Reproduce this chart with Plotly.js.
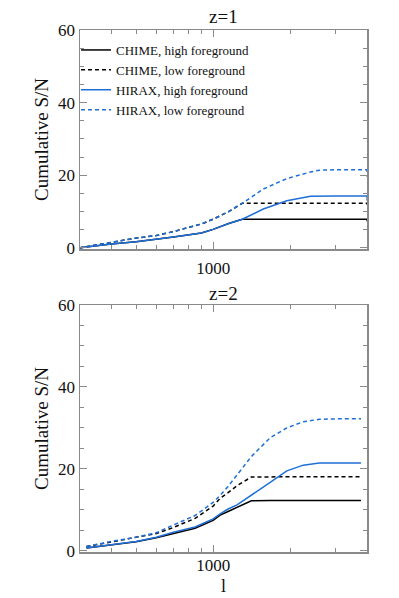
<!DOCTYPE html>
<html>
<head>
<meta charset="utf-8">
<script src="https://cdn.plot.ly/plotly-3.0.1.min.js"></script>
<style>
  body { margin: 0; background: #fff; }
  #plot { width: 399px; height: 598px; }
</style>
</head>
<body>
<div id="plot"></div>
<script>
// multipole l, z=1 panel
const lTop = [300, 400, 500, 600, 700, 900, 1000, 1150, 1300, 1570, 1940, 2400, 2600, 3000, 3990, 4000];
const chimeHighZ1 = [0, 1.1, 1.7, 2.3, 3.0, 4.1, 5.1, 6.7, 7.9, 7.9, 7.9, 7.9, 7.9, 7.9, 7.9, 7.3];
const chimeLowZ1  = [0, 1.6, 2.7, 3.4, 4.5, 6.6, 7.9, 10.0, 12.3, 12.3, 12.3, 12.3, 12.3, 12.3, 12.3, 11.9];
const hiraxHighZ1 = [0, 1.1, 1.7, 2.3, 3.0, 4.1, 5.1, 6.7, 7.9, 10.7, 13.0, 14.2, 14.3, 14.3, 14.3, 13.0];
const hiraxLowZ1  = [0, 1.6, 2.7, 3.4, 4.5, 6.6, 7.9, 10.0, 12.3, 16.2, 19.1, 20.9, 21.4, 21.5, 21.5, 19.5];

// multipole l, z=2 panel
const lBot = [320, 400, 500, 600, 700, 850, 1000, 1065, 1144, 1240, 1410, 1670, 1940, 2250, 2600, 3000, 3780];
const chimeHighZ2 = [0.65, 1.46, 2.2, 3.2, 4.3, 5.5, 7.4, 8.7, 9.6, 10.6, 12.2, 12.3, 12.3, 12.3, 12.3, 12.3, 12.3];
const chimeLowZ2  = [1.05, 2.2, 3.2, 4.2, 5.7, 7.9, 10.9, 12.8, 14.2, 15.9, 18.0, 18.1, 18.1, 18.1, 18.1, 18.1, 18.1];
const hiraxHighZ2 = [0.65, 1.46, 2.27, 3.3, 4.5, 5.8, 7.8, 9.0, 10.2, 11.2, 13.5, 16.7, 19.5, 20.9, 21.4, 21.4, 21.4];
const hiraxLowZ2  = [1.05, 2.27, 3.3, 4.4, 6.3, 8.6, 11.8, 13.5, 15.7, 18.5, 23.0, 27.6, 30.0, 31.5, 32.1, 32.2, 32.2];

const names = ["CHIME, high foreground", "CHIME, low foreground", "HIRAX, high foreground", "HIRAX, low foreground"];
const minorL = [400, 500, 600, 700, 800, 900, 2000, 3000];

const blue = "#1f6fd6";
const serif = "Liberation Serif, Times New Roman, serif";
const frame = "#8a8a8a";

function tr(x, y, name, color, dash, ax, show) {
  return {
    x: x, y: y, name: name, type: "scatter", mode: "lines",
    line: {color: color, width: 1.5, dash: dash},
    xaxis: "x" + ax, yaxis: "y" + ax, showlegend: show
  };
}

const data = [
  tr(lTop, chimeHighZ1, names[0], "#000", "solid", "", true),
  tr(lTop, chimeLowZ1, names[1], "#000", "4px,3px", "", true),
  tr(lTop, hiraxHighZ1, names[2], blue, "solid", "", true),
  tr(lTop, hiraxLowZ1, names[3], blue, "4px,3px", "", true),
  tr(lBot, chimeHighZ2, names[0], "#000", "solid", "2", false),
  tr(lBot, chimeLowZ2, names[1], "#000", "4px,3px", "2", false),
  tr(lBot, hiraxHighZ2, names[2], blue, "solid", "2", false),
  tr(lBot, hiraxLowZ2, names[3], blue, "4px,3px", "2", false)
];

function xax(anchor, dom, title, labelOff, titleOff) {
  return {
    type: "log", range: [Math.log10(302), Math.log10(3990)], domain: dom, anchor: anchor,
    showline: true, linecolor: frame, linewidth: 1.5, mirror: "allticks",
    ticks: "inside", ticklen: 7, tickcolor: frame, tickwidth: 1,
    tickvals: [1000], ticktext: ["1000"], ticklabelstandoff: labelOff,
    minor: {tickmode: "array", tickvals: minorL, ticks: "inside", ticklen: 4, tickcolor: frame},
    showgrid: false, zeroline: false,
    tickfont: {family: serif, size: 17, color: "#111"},
    title: {text: title, font: {family: serif, size: 18, color: "#111"}, standoff: titleOff}
  };
}
function yax(anchor, dom) {
  return {
    range: [-0.3, 60], domain: dom, anchor: anchor,
    showline: true, linecolor: frame, linewidth: 1.5, mirror: "allticks",
    ticks: "inside", ticklen: 7, tickcolor: frame, tickwidth: 1,
    tickvals: [0, 20, 40, 60], ticktext: ["0", "20", "40", "60"],
    minor: {dtick: 5, ticks: "inside", ticklen: 4, tickcolor: frame},
    showgrid: false, zeroline: false,
    tickfont: {family: serif, size: 17, color: "#111"},
    title: {text: "Cumulative S/N", font: {family: serif, size: 19, color: "#111"}, standoff: 4}
  };
}

const layout = {
  width: 399, height: 598,
  margin: {l: 0, r: 0, t: 0, b: 0},
  paper_bgcolor: "#fff", plot_bgcolor: "#fff",
  xaxis: xax("y", [80 / 399, 367 / 399], "", 3, 2),
  yaxis: yax("x", [(598 - 249) / 598, (598 - 30) / 598]),
  xaxis2: xax("y2", [80 / 399, 367 / 399], "l", -3, 5),
  yaxis2: yax("x2", [(598 - 552) / 598, (598 - 305) / 598]),
  legend: {
    x: 76 / 399, y: (598 - 35) / 598, xanchor: "left", yanchor: "top",
    bgcolor: "rgba(0,0,0,0)", tracegroupgap: 0,
    font: {family: serif, size: 13, color: "#111"}
  },
  annotations: [
    {text: "z=1", x: 223 / 399, y: (598 - 17) / 598, xref: "paper", yref: "paper",
     xanchor: "center", yanchor: "middle",
     showarrow: false, font: {family: serif, size: 19, color: "#111"}},
    {text: "z=2", x: 223 / 399, y: (598 - 293) / 598, xref: "paper", yref: "paper",
     xanchor: "center", yanchor: "middle",
     showarrow: false, font: {family: serif, size: 19, color: "#111"}}
  ]
};

Plotly.newPlot("plot", data, layout, {displayModeBar: false, staticPlot: true});
</script>
</body>
</html>
